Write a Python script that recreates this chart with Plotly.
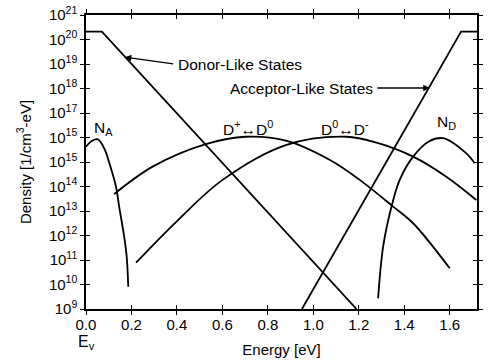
import numpy as np
import plotly.graph_objects as go

# Energy (eV) and log10(density [1/cm^3-eV])
donor_E = [0.0, 0.07, 1.19]
donor_log = [20.32, 20.32, 9.0]

acc_E = [0.95, 1.65, 1.72]
acc_log = [9.0, 20.32, 20.32]

na_E = [0.0, 0.025, 0.051, 0.08, 0.103, 0.132, 0.146, 0.168, 0.179, 0.186]
na_log = [15.62, 15.86, 15.93, 15.56, 14.95, 13.99, 13.17, 11.95, 11.13, 9.91]

dpd0_E = [0.124, 0.293, 0.527, 0.703, 0.879, 1.073, 1.204, 1.351, 1.439, 1.6]
dpd0_log = [13.69, 14.81, 15.73, 16.03, 15.87, 15.08, 14.27, 13.18, 12.5, 10.66]

d0dm_E = [0.22, 0.396, 0.601, 0.879, 1.146, 1.278, 1.439, 1.585, 1.717]
d0dm_log = [10.89, 12.55, 14.27, 15.69, 16.03, 15.79, 15.22, 14.4, 13.45]

nd_E = [1.285, 1.307, 1.344, 1.38, 1.439, 1.51, 1.571, 1.673, 1.71]
nd_log = [9.44, 11.54, 13.18, 14.27, 15.22, 15.85, 15.97, 15.35, 14.95]

x_ticks = [0.0, 0.2, 0.4, 0.6, 0.8, 1.0, 1.2, 1.4, 1.6]
x_ticklabels = ["0.0", "0.2", "0.4", "0.6", "0.8", "1.0", "1.2", "1.4", "1.6"]

y_tick_exp = [9, 10, 11, 12, 13, 14, 15, 16, 17, 18, 19, 20, 21]
y_tick_sup = ["9", "10", "11", "12", "13", "14", "15", "15", "17", "18", "19", "20", "21"]

FONT = "Liberation Sans, Arial, sans-serif"
ANN = 15.5

fig = go.Figure()
for xs, ls, shape in [(donor_E, donor_log, "linear"), (acc_E, acc_log, "linear"),
                      (na_E, na_log, "spline"), (dpd0_E, dpd0_log, "spline"),
                      (d0dm_E, d0dm_log, "spline"), (nd_E, nd_log, "spline")]:
    fig.add_trace(go.Scatter(x=xs, y=10 ** np.array(ls), mode="lines",
                             line=dict(color="black", width=1.8, shape=shape, smoothing=1),
                             showlegend=False, hoverinfo="skip"))
# invisible trace for overlay axes (inside ticks)
fig.add_trace(go.Scatter(x=[0.5], y=[1e12], xaxis="x2", yaxis="y2",
                         mode="markers", marker=dict(opacity=0), showlegend=False,
                         hoverinfo="skip"))

y_vals = [10.0 ** e for e in y_tick_exp]
y_text = ["10<sup>%s</sup>" % s for s in y_tick_sup]

tick_style = dict(ticklen=4, tickwidth=1.3, tickcolor="black", mirror="allticks",
                  showgrid=False, zeroline=False, linecolor="black", linewidth=1.5,
                  showline=True, automargin=False)

fig.update_layout(
    width=492, height=362,
    margin=dict(l=86, r=15, t=15, b=53),
    paper_bgcolor="white", plot_bgcolor="white",
    font=dict(family=FONT, size=15, color="black"),
    xaxis=dict(range=[0, 1.72], tickvals=x_ticks, ticktext=x_ticklabels,
               tickfont=dict(size=15), ticks="outside", ticklabelstandoff=-3,
               title=dict(text="Energy [eV]", font=dict(size=15), standoff=13),
               **tick_style),
    yaxis=dict(type="log", range=[9, 21], tickvals=y_vals, ticktext=y_text,
               tickfont=dict(size=15), ticks="outside",
               title=dict(text="Density [1/cm<sup>3</sup>-eV]", font=dict(size=15), standoff=14),
               **tick_style),
    xaxis2=dict(range=[0, 1.72], tickvals=x_ticks, overlaying="x", anchor="y2",
                showticklabels=False, ticks="inside", **tick_style),
    yaxis2=dict(type="log", range=[9, 21], tickvals=y_vals, overlaying="y", anchor="x2",
                showticklabels=False, ticks="inside", **tick_style),
)

# arrows and their labels (annotation y on log axes is given in log10 units)
fig.add_annotation(x=0.171, y=19.28, xref="x", yref="y",
                   ax=0.39, ay=19.0, axref="x", ayref="y",
                   showarrow=True, arrowhead=2, arrowsize=1, arrowwidth=1.3,
                   arrowcolor="black", text="")
fig.add_annotation(x=0.395, y=19.0, xref="x", yref="y", text="Donor-Like States",
                   showarrow=False, xanchor="left", yanchor="middle",
                   font=dict(size=ANN))
fig.add_annotation(x=1.512, y=18.02, xref="x", yref="y",
                   ax=1.275, ay=18.02, axref="x", ayref="y",
                   showarrow=True, arrowhead=2, arrowsize=1, arrowwidth=1.3,
                   arrowcolor="black", text="")
fig.add_annotation(x=1.27, y=18.02, xref="x", yref="y", text="Acceptor-Like States",
                   showarrow=False, xanchor="right", yanchor="middle",
                   font=dict(size=ANN))

labels = [
    (0.075, 16.35, "N<sub>A</sub>"),
    (0.713, 16.4, "D<sup>+</sup>↔D<sup>0</sup>"),
    (1.14, 16.4, "D<sup>0</sup>↔D<sup>-</sup>"),
    (1.587, 16.6, "N<sub>D</sub>"),
]
for x, l, t in labels:
    fig.add_annotation(x=x, y=l, xref="x", yref="y", text=t, showarrow=False,
                       font=dict(size=ANN))

fig.add_annotation(x=0.0, y=-0.075, xref="x", yref="paper", text="E<sub>v</sub>",
                   showarrow=False, yanchor="top", font=dict(size=16))
fig.add_annotation(x=1.735, y=-0.1, xref="x", yref="paper", text="E<sub>c</sub>",
                   showarrow=False, yanchor="top", font=dict(size=16))

fig.write_html("out.html")
